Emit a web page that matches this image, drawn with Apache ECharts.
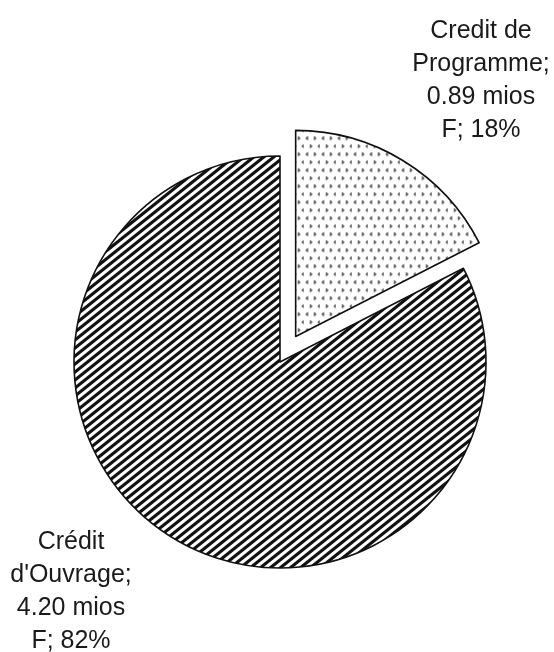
<!DOCTYPE html>
<html>
<head>
<meta charset="utf-8">
<script src="https://cdn.jsdelivr.net/npm/echarts@6/dist/echarts.min.js"></script>
<style>
html,body{margin:0;padding:0;background:#fff;}
#chart{width:554px;height:652px;}
</style>
</head>
<body>
<div id="chart"></div>
<script>
// Data
const names = ["Credit de\nProgramme", "Crédit\nd'Ouvrage"];
const values = [0.89, 4.20];
const percents = [18, 82];
const unit = "mios\nF";

function hatchPattern() {
  const W = 10, H = 8;
  const c = document.createElement('canvas');
  c.width = W; c.height = H;
  const g = c.getContext('2d');
  g.fillStyle = '#fff'; g.fillRect(0, 0, W, H);
  g.strokeStyle = '#111'; g.lineWidth = 3.1;
  for (let k = -2; k <= 2; k++) {
    g.beginPath();
    g.moveTo(k * W - W, 2 * H);
    g.lineTo(k * W + 2 * W, -H);
    g.stroke();
  }
  return c;
}
function dotPattern() {
  const S = 16;
  const c = document.createElement('canvas');
  c.width = S; c.height = S;
  const g = c.getContext('2d');
  g.fillStyle = '#fff'; g.fillRect(0, 0, S, S);
  g.fillStyle = 'rgba(30,30,30,0.85)';
  function lt(x, y) { g.fillRect(x + 1, y, 1.5, 1.5); g.fillRect(x, y + 1, 1.5, 1.5); g.fillRect(x + 1, y + 2, 1.5, 1.5); }
  function gt(x, y) { g.fillRect(x, y, 1.5, 1.5); g.fillRect(x + 1, y + 1, 1.5, 1.5); g.fillRect(x, y + 2, 1.5, 1.5); }
  lt(2, 2); gt(10, 2);
  gt(6, 10); lt(14, 10);
  return c;
}

const patterns = [
  { image: dotPattern(), repeat: 'repeat' },
  { image: hatchPattern(), repeat: 'repeat' }
];
const labelPos = [[481, 81], [71, 592]];

function labelText(i) {
  return names[i] + ';\n' + values[i].toFixed(2) + ' ' + unit + '; ' + percents[i] + '%';
}

const chart = echarts.init(document.getElementById('chart'), null, { renderer: 'canvas' });
chart.setOption({
  backgroundColor: '#fff',
  animation: false,
  graphic: values.map((v, i) => ({
    type: 'text',
    x: labelPos[i][0],
    y: labelPos[i][1],
    z: 10,
    style: {
      text: labelText(i),
      fontFamily: 'Liberation Sans, Arial, sans-serif',
      fontSize: 25,
      lineHeight: 33,
      fill: '#1a1a1a',
      align: 'center',
      verticalAlign: 'middle'
    }
  })),
  series: [{
    type: 'pie',
    center: [280, 362],
    radius: 206,
    startAngle: 90,
    clockwise: true,
    selectedMode: 'multiple',
    selectedOffset: 30,
    emphasis: { disabled: true },
    label: { show: false },
    labelLine: { show: false },
    data: values.map((v, i) => ({
      name: names[i],
      value: v,
      selected: i === 0,
      itemStyle: { color: patterns[i], borderColor: '#111', borderWidth: 1.6 },
      select: { itemStyle: { color: patterns[i], borderColor: '#111', borderWidth: 1.6 } }
    }))
  }]
});
</script>
</body>
</html>
